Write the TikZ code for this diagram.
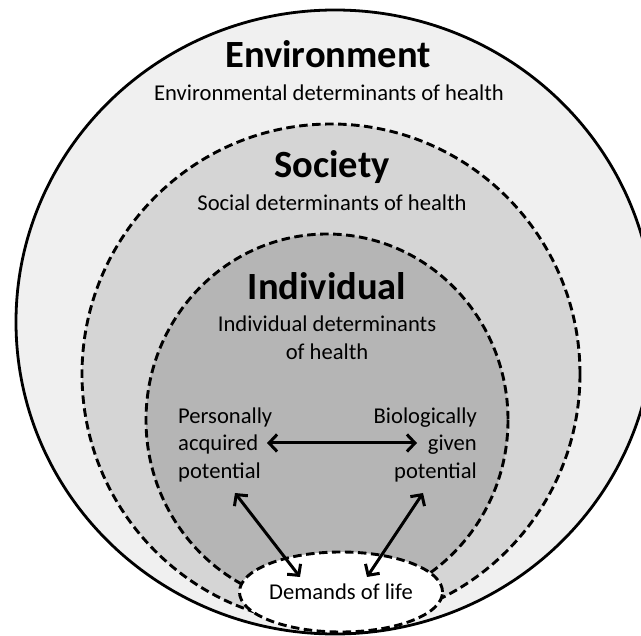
\documentclass[tikz,border=0pt]{standalone}
\usepackage{fontspec}
\setmainfont{Carlito}
\usetikzlibrary{arrows.meta,shapes.geometric}
\definecolor{envfill}{gray}{0.94}
\definecolor{socfill}{gray}{0.835}
\definecolor{indfill}{gray}{0.71}
\begin{document}
\begin{tikzpicture}[x=1pt,y=-1pt,
  solidline/.style={line width=2.8pt},
  dashedline/.style={draw=black, line width=2.9pt, dash pattern=on 8.5pt off 4.5pt},
  titletext/.style={font=\fontsize{38.5}{38.5}\selectfont\bfseries, inner sep=0pt},
  subtext/.style={font=\fontsize{22.6}{27.5}\selectfont, inner sep=0pt},
  dblarrow/.style={line width=3pt, {Straight Barb[length=8pt,width=17pt]}-{Straight Barb[length=8pt,width=17pt]}}
]
\useasboundingbox (0,0) rectangle (641,636);
\begin{scope}
  \clip (0,0) rectangle (641,636);
  \filldraw[fill=envfill, solidline] (335,322) ellipse [x radius=319, y radius=312];
\end{scope}
\filldraw[fill=socfill, dashedline] (331,374) ellipse [x radius=249, y radius=250];
\filldraw[fill=indfill, dashedline] (327,420) ellipse [x radius=181, y radius=186];
\node[ellipse, fill=white, dashedline, minimum width=202pt, minimum height=80pt, inner sep=0pt, font=\fontsize{22.6}{22.6}\selectfont] (dem) at (341,592) {Demands of life};

\node[titletext, anchor=base] (envt) at (328,68) {Environment};
\node[subtext, anchor=base] (envd) at (329,101) {Environmental determinants of health};
\node[titletext, anchor=base] (soct) at (332,178) {Society};
\node[subtext, anchor=base] (socd) at (332,211) {Social determinants of health};
\node[titletext, anchor=base] (indt) at (327,300) {Individual};
\node[subtext, anchor=north, align=center] (indd) at (327,316) {Individual determinants\\of health};

\node[subtext, anchor=north west, align=left] (pap) at (178,407.5) {Personally\\acquired\\potential};
\node[subtext, anchor=north east, align=right] (bgp) at (477,407.5) {Biologically\\given\\potential};

\coordinate (h1) at (267,443);
\coordinate (h2) at (417,443);
\coordinate (l1) at (235,493);
\coordinate (l2) at (300,577);
\coordinate (r1) at (423,493);
\coordinate (r2) at (367,577);
\draw[dblarrow] (h1) -- (h2);
\draw[dblarrow] (l1) -- (l2);
\draw[dblarrow] (r1) -- (r2);
\end{tikzpicture}
\end{document}
